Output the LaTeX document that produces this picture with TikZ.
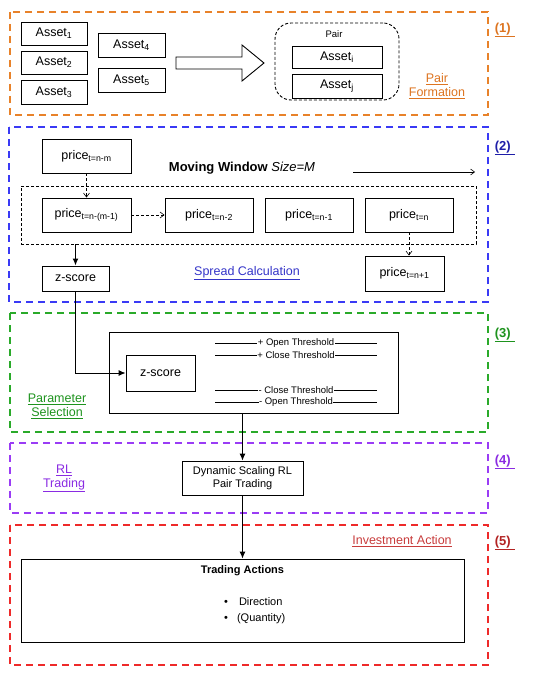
\documentclass[tikz,border=0pt]{standalone}
\usepackage{fontspec}
\setmainfont{Liberation Sans}
\usetikzlibrary{arrows.meta,positioning}
\definecolor{frameOrange}{HTML}{E8822A}
\definecolor{textOrange}{HTML}{DD7420}
\definecolor{frameBlue}{HTML}{3A3AF5}
\definecolor{textBlue}{HTML}{1E1EA8}
\definecolor{linkBlue}{HTML}{3434C8}
\definecolor{frameGreen}{HTML}{2AAA2A}
\definecolor{textGreen}{HTML}{1E931E}
\definecolor{framePurple}{HTML}{9A3CF5}
\definecolor{textPurple}{HTML}{8A2BE2}
\definecolor{frameRed}{HTML}{EE2A2A}
\definecolor{textRed}{HTML}{B22222}
\definecolor{linkRed}{HTML}{C83C3C}

\begin{document}
\begin{tikzpicture}[x=1pt,y=-1pt,>=Latex,
    every node/.style={font=\fontsize{12.5}{14}\selectfont,inner sep=1pt},
    blk/.style={draw,line width=.9pt},
    secframe/.style={line width=1.6pt,dash pattern=on 7pt off 5pt},
    seclbl/.style={font=\fontsize{13}{15}\selectfont\bfseries},
    small/.style={font=\fontsize{9.5}{11}\selectfont},
    dasharrow/.style={-{Straight Barb[length=4pt,width=6pt]},dash pattern=on 3pt off 2pt,line width=.6pt},
    flow/.style={-{Latex[length=7pt,width=6pt]},line width=.9pt}]
  \useasboundingbox (0,0) rectangle (550,674);

  % (1) pair formation
  \draw[secframe,frameOrange] (10,12) rectangle (488,115);
  \node[seclbl,text=textOrange] (l1) at (505,30) {\underline{(1)\,\,}};
  \node[blk,minimum width=66,minimum height=23] (a1) at (54,33.5) {Asset\textsubscript{1}};
  \node[blk,minimum width=66,minimum height=23] (a2) at (54,62.5) {Asset\textsubscript{2}};
  \node[blk,minimum width=66,minimum height=24] (a3) at (54,92) {Asset\textsubscript{3}};
  \node[blk,minimum width=67,minimum height=24] (a4) at (131.5,45) {Asset\textsubscript{4}};
  \node[blk,minimum width=67,minimum height=24] (a5) at (131.5,80) {Asset\textsubscript{5}};
  \draw[line width=.9pt,fill=white] (176,57) -- (242,57) -- (242,45) -- (264,63)
    -- (242,81) -- (242,69) -- (176,69) -- cycle;
  \node[draw,line width=.9pt,dash pattern=on 3pt off 2pt,rounded corners=16pt,
    minimum width=124,minimum height=77] (pair) at (337,61.5) {};
  \node[small] (pairlbl) at (334,34) {Pair};
  \node[blk,minimum width=90,minimum height=22] (ai) at (337,57) {Asset\textsubscript{i}};
  \node[blk,minimum width=90,minimum height=24] (aj) at (337,86) {Asset\textsubscript{j}};
  \node[text=textOrange,align=center] (pf) at (437,86.5) {\underline{Pair}\\\underline{Formation}};

  % (2) spread calculation
  \draw[secframe,frameBlue] (9,127) rectangle (488,302);
  \node[seclbl,text=textBlue] (l2) at (505,148) {\underline{(2)\,\,}};
  \node[blk,minimum width=89,minimum height=34] (pnm) at (86.5,156) {price\textsubscript{t=n-m}};
  \node (mw) at (242,168) {\fontsize{13}{15}\selectfont\textbf{Moving Window} \textit{Size=M}};
  \coordinate (mwa) at (353,172);
  \coordinate (mwb) at (475,172);
  \draw[-{Straight Barb[length=4pt,width=6pt]},line width=.6pt] (mwa) -- (mwb);
  \node[draw,line width=.8pt,dash pattern=on 3pt off 2pt,minimum width=455,minimum height=58] (win) at (248.5,215) {};
  \node[blk,minimum width=89,minimum height=34] (p1) at (86.5,215) {price\textsubscript{t=n-(m-1)}};
  \node[blk,minimum width=88,minimum height=34] (p2) at (209,215) {price\textsubscript{t=n-2}};
  \node[blk,minimum width=88,minimum height=34] (p3) at (309,215) {price\textsubscript{t=n-1}};
  \node[blk,minimum width=88,minimum height=34] (p4) at (409,215) {price\textsubscript{t=n}};
  \node[blk,minimum width=79,minimum height=35] (pn1) at (404.5,273.5) {price\textsubscript{t=n+1}};
  \node[blk,minimum width=67,minimum height=25] (zs1) at (75.5,278.5) {z-score};
  \node[text=linkBlue] (sc) at (247,273) {\underline{Spread Calculation}};
  \draw[dasharrow] (pnm.south) -- (p1.north);
  \draw[dasharrow] (p1.east) -- (p2.west);
  \draw[dasharrow] (p4.south) -- (p4.south |- pn1.north);
  \draw[flow,line width=1.3pt] (zs1.north |- win.south) -- (zs1.north);

  % (3) parameter selection
  \draw[secframe,frameGreen] (10,313) rectangle (488,432);
  \node[seclbl,text=textGreen] (l3) at (505,335) {\underline{(3)\,\,}};
  \node[blk,minimum width=289,minimum height=81] (param) at (253.5,372.5) {};
  \node[blk,minimum width=69,minimum height=36] (zs2) at (160.5,373) {z-score};
  \foreach \yy/\txt in {343/+ Open Threshold,355/+ Close Threshold,390/- Close Threshold,402/- Open Threshold}
    \draw[line width=.8pt] (215,\yy) -- (377,\yy) node[midway,small,fill=white,inner sep=.5pt] {\txt};
  \node[text=textGreen,align=center] (ps) at (57,406) {\underline{Parameter}\\\underline{Selection}};
  \draw[flow] (zs1.south) |- (zs2.west);

  % (4) RL trading
  \draw[secframe,framePurple] (10,443) rectangle (488,513);
  \node[seclbl,text=textPurple] (l4) at (505,462) {\underline{(4)\,\,}};
  \node[blk,minimum width=121,minimum height=34,align=center,font=\fontsize{11}{13.5}\selectfont] (ds) at (242.5,478)
    {Dynamic Scaling RL\\Pair Trading};
  \node[text=textPurple,align=center] (rl) at (64,478.5) {\underline{RL}\\\underline{Trading}};
  \draw[flow] (ds.north |- param.south) -- (ds.north);

  % (5) investment action
  \draw[secframe,frameRed] (10,525) rectangle (488,665);
  \node[seclbl,text=textRed] (l5) at (505,543) {\underline{(5)\,\,}};
  \node[text=linkRed] (ia) at (402,541) {\underline{Investment Action}};
  \node[blk,minimum width=443,minimum height=83] (ta) at (242.5,600.5) {};
  \node[font=\fontsize{11}{13}\selectfont\bfseries] (tat) at (242.5,571) {Trading Actions};
  \node[font=\fontsize{11}{13}\selectfont,anchor=west] (dir) at (223,602) {\textbullet\hspace{11pt}Direction};
  \node[font=\fontsize{11}{13}\selectfont,anchor=west] (qty) at (223,619) {\textbullet\hspace{9pt}(Quantity)};
  \draw[flow] (ds.south) -- (ta.north);
\end{tikzpicture}
\end{document}
